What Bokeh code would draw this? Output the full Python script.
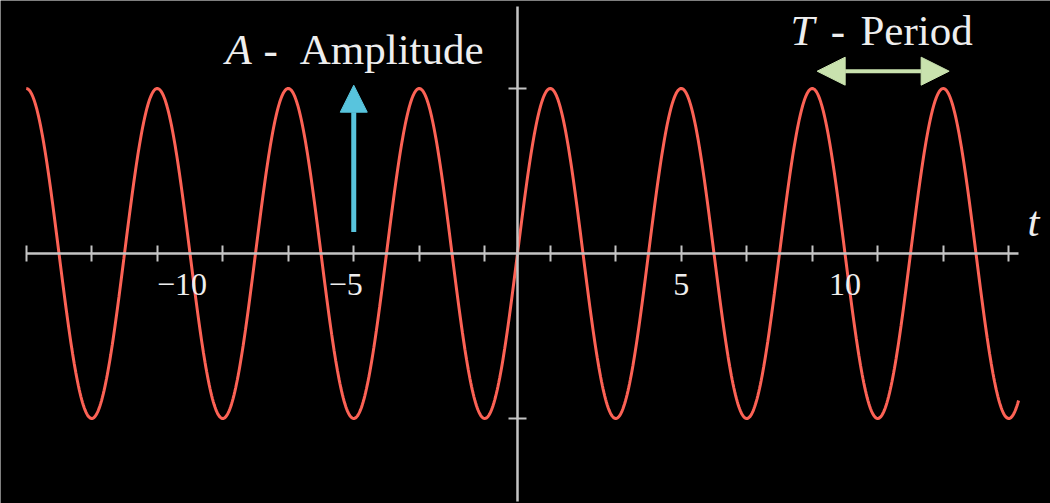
from bokeh.plotting import figure
from bokeh.models import (Range1d, LinearAxis, FixedTicker, CustomJSTickFormatter,
                          Arrow, NormalHead, ColumnDataSource)
from bokeh.core.properties import value
from bokeh.embed import file_html
from bokeh.resources import INLINE
import numpy as np

# Wave parameters
amplitude = 1.0
period = 4.0
t_start, t_end = -15.0, 15.3

# Axis ticks and labels
x_ticks = [-15, -13, -11, -9, -7, -5, -3, -1, 1, 3, 5, 7, 9, 11, 13, 15]
y_ticks = [-1, 1]
label_vals = [-10, -5, 5, 10]
label_text = ["\u221210", "\u22125", "5", "10"]

# Annotation geometry (data units)
amp_arrow_x = -5.0
amp_arrow_y = (0.13, 1.02)
per_arrow_x = (9.15, 13.18)
per_arrow_y = 1.105

RED = "#FC6255"
BLUE = "#58C4DD"
GREEN = "#C9E2AE"
AXIS = "#c4c4c4"
TEXT = "#eeeeee"
FONT = "Liberation Serif"
BIG = "43px"

px_per_x = 32.75
px_per_y = 165.0
W, H = 1050, 503
ox, oy = 517, 253

p = figure(width=W, height=H, output_backend="svg", toolbar_location=None,
           x_range=Range1d(-ox / px_per_x, (W - ox) / px_per_x),
           y_range=Range1d(-(H - oy) / px_per_y, oy / px_per_y),
           x_axis_type=None, y_axis_type=None, min_border=0)
p.background_fill_color = "black"
p.border_fill_color = "black"
p.outline_line_color = None
p.xgrid.visible = False
p.ygrid.visible = False

blank = CustomJSTickFormatter(code="return ''")

xaxis = LinearAxis(fixed_location=0, bounds=(t_start, t_end),
                   ticker=FixedTicker(ticks=x_ticks), formatter=blank,
                   axis_line_color=AXIS, axis_line_width=2.5,
                   major_tick_line_color=AXIS, major_tick_line_width=2,
                   major_tick_in=8, major_tick_out=8,
                   minor_tick_line_color=None)
p.add_layout(xaxis, "below")

yaxis = LinearAxis(fixed_location=0, bounds=(-1.5, 1.5),
                   ticker=FixedTicker(ticks=y_ticks), formatter=blank,
                   axis_line_color=AXIS, axis_line_width=2.5,
                   major_tick_line_color=AXIS, major_tick_line_width=2,
                   major_tick_in=9, major_tick_out=9,
                   minor_tick_line_color=None)
p.add_layout(yaxis, "left")

# The wave
t = np.linspace(t_start, t_end, 1200)
wave = amplitude * np.sin(2 * np.pi * t / period)
p.line(t, wave, line_color=RED, line_width=3)

# Number labels under the axis; negatives shifted so the digits sit under the value
lab_src = ColumnDataSource(dict(
    x=label_vals, y=[-0.186] * len(label_vals), text=label_text,
    xoff=[-8 if v < 0 else 0 for v in label_vals]))
p.text(x="x", y="y", text="text", x_offset="xoff", source=lab_src,
       text_font=value(FONT), text_font_size="32px", text_color=TEXT,
       text_align="center", text_baseline="alphabetic")

# Axis variable
p.text(x=[15.57], y=[0.194], text=["t"], text_font=value(FONT),
       text_font_style="italic", text_font_size=BIG, text_color=TEXT,
       text_baseline="alphabetic")

# Amplitude annotation
p.add_layout(Arrow(end=NormalHead(size=27, fill_color=BLUE, line_color=BLUE),
                   x_start=amp_arrow_x, y_start=amp_arrow_y[0],
                   x_end=amp_arrow_x, y_end=amp_arrow_y[1],
                   line_color=BLUE, line_width=5))
p.text(x=[-8.916], y=[1.236], text=["A"], text_font=value(FONT),
       text_font_style="italic", text_font_size=BIG, text_color=TEXT,
       text_baseline="alphabetic")
p.text(x=[-7.54], y=[1.236], text=["-"], text_font=value(FONT),
       text_font_size=BIG, text_color=TEXT, text_align="center",
       text_baseline="alphabetic")
p.text(x=[-6.65], y=[1.236], text=["Amplitude"], text_font=value(FONT),
       text_font_size=BIG, text_color=TEXT, text_align="left",
       text_baseline="alphabetic")

# Period annotation
p.add_layout(Arrow(start=NormalHead(size=28, fill_color=GREEN, line_color=GREEN),
                   end=NormalHead(size=28, fill_color=GREEN, line_color=GREEN),
                   x_start=per_arrow_x[0], y_start=per_arrow_y,
                   x_end=per_arrow_x[1], y_end=per_arrow_y,
                   line_color=GREEN, line_width=4))
p.text(x=[8.336], y=[1.351], text=["T"], text_font=value(FONT),
       text_font_style="italic", text_font_size=BIG, text_color=TEXT,
       text_baseline="alphabetic")
p.text(x=[9.786], y=[1.351], text=["-"], text_font=value(FONT),
       text_font_size=BIG, text_color=TEXT, text_align="center",
       text_baseline="alphabetic")
p.text(x=[10.47], y=[1.351], text=["Period"], text_font=value(FONT),
       text_font_size=BIG, text_color=TEXT, text_align="left",
       text_baseline="alphabetic")

open("out.html", "w").write(file_html(p, INLINE))
